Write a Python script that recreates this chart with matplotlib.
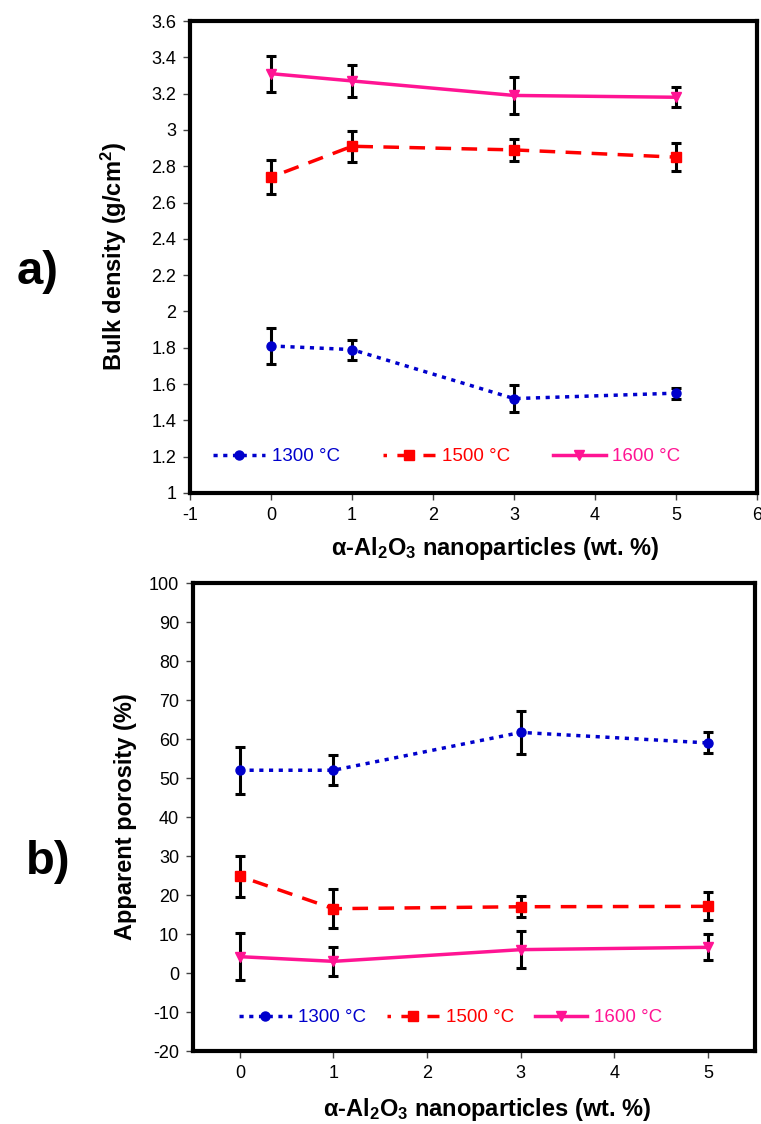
import numpy as np
import matplotlib
matplotlib.use("Agg")
import matplotlib.pyplot as plt

plt.rcParams['font.family'] = ['Liberation Sans', 'DejaVu Sans']
plt.rcParams['mathtext.fontset'] = 'custom'
plt.rcParams['mathtext.rm'] = 'Liberation Sans'
plt.rcParams['mathtext.bf'] = 'Liberation Sans:bold'
plt.rcParams['mathtext.default'] = 'bf'
plt.rcParams['axes.unicode_minus'] = False

# ================================
# Data
# ================================
x = [0, 1, 3, 5]
labels = ["1300 °C", "1500 °C", "1600 °C"]

# a) bulk density (g/cm2)
dens_1300 = [1.81, 1.79, 1.52, 1.55]
dens_1300_err = [0.10, 0.055, 0.075, 0.03]
dens_1500 = [2.74, 2.91, 2.89, 2.85]
dens_1500_err = [0.094, 0.085, 0.06, 0.078]
dens_1600 = [3.31, 3.27, 3.19, 3.18]
dens_1600_err = [0.10, 0.09, 0.10, 0.056]

# b) apparent porosity (%)
por_1300 = [52.0, 52.0, 61.7, 59.0]
por_1300_err = [6.0, 3.8, 5.5, 2.7]
por_1500 = [24.8, 16.5, 17.0, 17.1]
por_1500_err = [5.3, 5.0, 2.7, 3.6]
por_1600 = [4.2, 3.0, 6.0, 6.6]
por_1600_err = [6.1, 3.7, 4.7, 3.3]

# ================================
# Styles
# ================================
colors = ['#0000CC', '#FF0000', '#FF1493']
styles = [(0, (1.2, 1.6)), (3.5, (4.5, 3)), '-']
markers = ['o', 's', 'v']
msizes = [6.5, 6.5, 7.5]

fig = plt.figure(figsize=(7.61, 11.24), dpi=100)
ax1 = fig.add_axes([0.2497, 0.5614, 0.7451, 0.4199])
ax2 = fig.add_axes([0.2536, 0.0649, 0.7385, 0.4164])


def draw(ax, series, errs):
    for i, (y, e) in enumerate(zip(series, errs)):
        ax.errorbar(x, y, yerr=e, fmt='none', ecolor='black', elinewidth=2.2,
                    capsize=3.5, capthick=2.2, zorder=2)
    for i, y in enumerate(series):
        ax.plot(x, y, color=colors[i], linestyle=styles[i], linewidth=2.5,
                marker=markers[i], markersize=msizes[i], label=labels[i], zorder=3)
    for s in ax.spines.values():
        s.set_linewidth(3)
        s.set_color('black')
    ax.tick_params(direction='out', length=5, width=1, color='#444444',
                   labelsize=13, pad=5)


draw(ax1, [dens_1300, dens_1500, dens_1600], [dens_1300_err, dens_1500_err, dens_1600_err])
draw(ax2, [por_1300, por_1500, por_1600], [por_1300_err, por_1500_err, por_1600_err])

# axis a
ax1.set_xlim(-1, 6)
ax1.set_ylim(1, 3.6)
ax1.set_xticks(range(-1, 7))
ax1.set_yticks(np.arange(1, 3.61, 0.2))
ax1.set_yticklabels(['1', '1.2', '1.4', '1.6', '1.8', '2', '2.2', '2.4', '2.6', '2.8', '3', '3.2', '3.4', '3.6'])
ax1.set_ylabel(r"Bulk density (g/cm$^2$)", fontsize=17, fontweight='bold')
ax1.set_xlabel(r"α-Al$_2$O$_3$ nanoparticles (wt. %)", fontsize=17, fontweight='bold')
ax1.yaxis.set_label_coords(-0.108, 0.5)
ax1.xaxis.set_label_coords(0.538, -0.09)
ax1.legend(loc='center left', bbox_to_anchor=(0.04, 0.077), ncol=3, frameon=False,
           labelcolor='linecolor', fontsize=13.5, numpoints=1, handlelength=2.8,
           handletextpad=0.35, columnspacing=2.3, borderpad=0, borderaxespad=0)

# axis b
ax2.set_xlim(-0.5, 5.5)
ax2.set_ylim(-20, 100)
ax2.set_xticks(range(0, 6))
ax2.set_yticks(range(-20, 101, 10))
ax2.set_ylabel("Apparent porosity (%)", fontsize=17, fontweight='bold')
ax2.set_xlabel(r"α-Al$_2$O$_3$ nanoparticles (wt. %)", fontsize=17, fontweight='bold')
ax2.yaxis.set_label_coords(-0.10, 0.5)
ax2.xaxis.set_label_coords(0.523, -0.095)
ax2.legend(loc='center left', bbox_to_anchor=(0.082, 0.071), ncol=3, frameon=False,
           labelcolor='linecolor', fontsize=13.5, numpoints=1, handlelength=2.8,
           handletextpad=0.35, columnspacing=1.1, borderpad=0, borderaxespad=0)

fig.text(38 / 761, 1 - 272 / 1124, "a)", fontsize=34, fontweight='bold', ha='center', va='center')
fig.text(48 / 761, 1 - 862 / 1124, "b)", fontsize=34, fontweight='bold', ha='center', va='center')

plt.savefig("out.png", dpi=100)
